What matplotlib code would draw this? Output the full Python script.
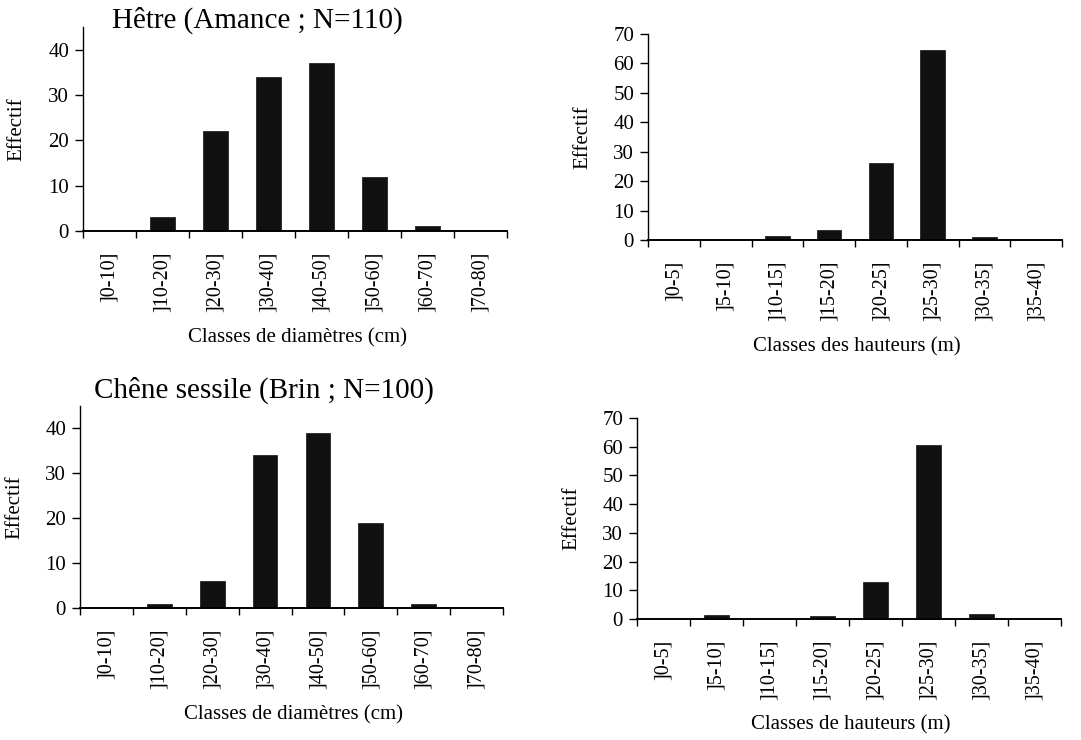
import matplotlib
matplotlib.use("Agg")
import matplotlib.pyplot as plt
import numpy as np

plt.rcParams['font.family'] = ['Liberation Serif', 'DejaVu Serif']

# classes
diam_classes = [']0-10]', ']10-20]', ']20-30]', ']30-40]', ']40-50]', ']50-60]', ']60-70]', ']70-80]']
haut_classes = [']0-5]', ']5-10]', ']10-15]', ']15-20]', ']20-25]', ']25-30]', ']30-35]', ']35-40]']

# effectifs
hetre_diam = [0, 3, 22, 34, 37, 12, 1, 0]
hetre_haut = [0, 0, 1.5, 3.5, 26, 64.5, 1, 0]
chene_diam = [0, 1, 6, 34, 39, 19, 1, 0]
chene_haut = [0, 1.3, 0, 1.2, 13, 60.5, 1.6, 0]

W, H = 1081, 740
fig = plt.figure(figsize=(W / 100, H / 100), dpi=100)


def make_ax(l, r, b, t):
    # pixel box -> figure fraction
    return fig.add_axes([l / W, (H - b) / H, (r - l) / W, (b - t) / H])


def bars(ax, labels, vals, ymax, ystep, xlabel, ylab_x, xlab_y, box):
    n = len(labels)
    x = np.arange(n)
    ax.bar(x, vals, width=0.47, color='#111111', edgecolor='#111111', linewidth=0.5, zorder=2)
    ax.set_xlim(-0.5, n - 0.5)
    ax.set_ylim(0, ymax)
    ax.set_yticks(np.arange(0, ymax + 0.1, ystep))
    ax.set_xticks(x)
    ax.set_xticklabels(labels, rotation=90, fontsize=14.5)
    ax.set_xticks(np.arange(-0.5, n, 1), minor=True)
    ax.tick_params(axis='x', which='major', length=0, pad=15)
    ax.tick_params(axis='x', which='minor', length=5, direction='out', width=1)
    ax.tick_params(axis='y', length=6, width=1, labelsize=15, pad=4)
    for s in ['top', 'right']:
        ax.spines[s].set_visible(False)
    ax.spines['left'].set_linewidth(1)
    ax.spines['bottom'].set_linewidth(1.4)
    l, r, b, t = box
    fig.text(ylab_x / W, 1 - ((b + t) / 2) / H, 'Effectif', rotation=90,
             ha='center', va='center', fontsize=15)
    fig.text(((l + r) / 2 + 2) / W, 1 - xlab_y / H, xlabel, ha='center', va='center', fontsize=15)


box1 = (83, 507, 231, 27)
ax1 = make_ax(*box1)
bars(ax1, diam_classes, hetre_diam, 45, 10, 'Classes de diamètres (cm)', 17, 338, box1)
fig.text(257 / W, 1 - 20 / H, 'Hêtre (Amance ; N=110)', ha='center', va='center', fontsize=21)

box2 = (648, 1062, 240, 34)
ax2 = make_ax(*box2)
bars(ax2, haut_classes, hetre_haut, 70, 10, 'Classes des hauteurs (m)', 583, 347, box2)

box3 = (80, 503, 608, 406)
ax3 = make_ax(*box3)
bars(ax3, diam_classes, chene_diam, 45, 10, 'Classes de diamètres (cm)', 15, 715, box3)
fig.text(264 / W, 1 - 390 / H, 'Chêne sessile (Brin ; N=100)', ha='center', va='center', fontsize=21)

box4 = (637, 1061, 619, 418)
ax4 = make_ax(*box4)
bars(ax4, haut_classes, chene_haut, 70, 10, 'Classes de hauteurs (m)', 572, 725, box4)

fig.savefig('out.png', dpi=100, facecolor='white')
